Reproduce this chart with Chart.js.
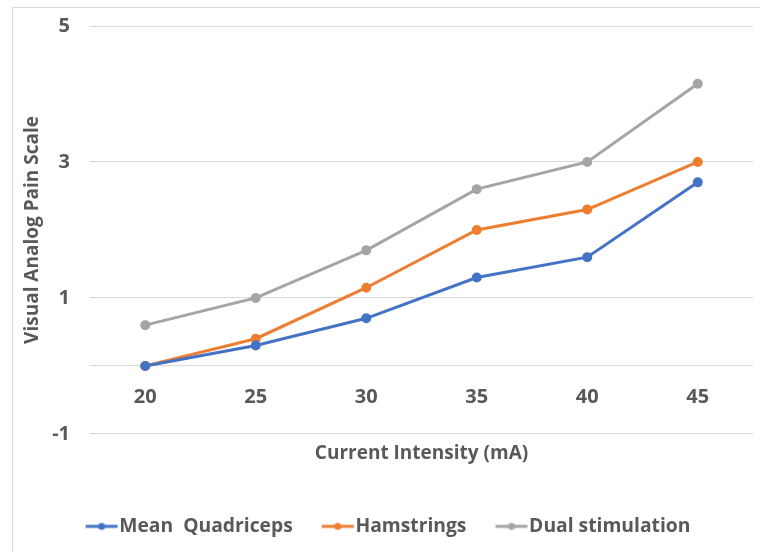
<!DOCTYPE html>
<html>
<head>
<meta charset="utf-8">
<script src="https://cdn.jsdelivr.net/npm/chart.js@4/dist/chart.umd.min.js"></script>
<style>
  html, body { margin: 0; background: #fff; }
  #wrap { width: 760px; height: 552px; }
</style>
</head>
<body>
<div id="wrap"><canvas id="pain"></canvas></div>
<script>
const intensities = ['20', '25', '30', '35', '40', '45'];
const quadriceps = [0, 0.3, 0.7, 1.3, 1.6, 2.7];
const hamstrings = [0, 0.4, 1.15, 2.0, 2.3, 3.0];
const dual = [0.6, 1.0, 1.7, 2.6, 3.0, 4.15];
const yTicks = [-1, 0, 1, 3, 5];

const TEXT = '#595959';
const GRID = '#d9d9d9';
const FONT = "'Open Sans', sans-serif";
const colors = ['#4472c4', '#ed7d31', '#a5a5a5'];

// little line-with-marker swatch used as the legend symbol
function swatch(color) {
  const c = document.createElement('canvas');
  c.width = 40;
  c.height = 10;
  const ctx = c.getContext('2d');
  ctx.strokeStyle = color;
  ctx.lineWidth = 3;
  ctx.beginPath();
  ctx.moveTo(4, 5);
  ctx.lineTo(36, 5);
  ctx.stroke();
  ctx.fillStyle = color;
  ctx.beginPath();
  ctx.arc(20, 5, 3.5, 0, Math.PI * 2);
  ctx.fill();
  return c;
}
const swatches = colors.map(swatch);

// thin sheet border along the top and left edge
const sheetFrame = {
  id: 'sheetFrame',
  beforeDraw(chart) {
    const { ctx } = chart;
    ctx.save();
    ctx.strokeStyle = GRID;
    ctx.lineWidth = 1;
    ctx.beginPath();
    ctx.moveTo(12.5, chart.height);
    ctx.lineTo(12.5, 7.5);
    ctx.lineTo(chart.width, 7.5);
    ctx.stroke();
    ctx.restore();
  },
};

const series = (label, data, color) => ({
  label,
  data,
  borderColor: color,
  backgroundColor: color,
  borderWidth: 3,
  pointRadius: 3.5,
  pointHoverRadius: 4,
  tension: 0,
});

const boldFont = (size) => ({ family: FONT, size, weight: 'bold' });

new Chart(document.getElementById('pain'), {
  type: 'line',
  data: {
    labels: intensities,
    datasets: [
      series('Mean  Quadriceps', quadriceps, colors[0]),
      series('Hamstrings', hamstrings, colors[1]),
      series('Dual stimulation', dual, colors[2]),
    ],
  },
  options: {
    responsive: true,
    maintainAspectRatio: false,
    animation: false,
    layout: { padding: { left: 24, right: 0, top: 26, bottom: 6 } },
    scales: {
      // category labels sit on the zero line
      x: {
        position: { y: 0 },
        offset: true,
        grid: { display: false, drawTicks: false },
        border: { display: false },
        ticks: { color: TEXT, font: boldFont(20), padding: 19 },
        afterFit(scale) {
          scale.paddingLeft = 0;
          scale.paddingRight = 0;
        },
      },
      // bottom axis only carries the title
      xTitle: {
        type: 'category',
        position: 'bottom',
        grid: { display: false, drawTicks: false },
        border: { display: false },
        ticks: { display: false },
        title: {
          display: true,
          text: 'Current Intensity (mA)',
          color: TEXT,
          font: boldFont(19),
          padding: { top: 8, bottom: 15 },
        },
      },
      y: {
        min: -1,
        max: 5,
        afterBuildTicks(scale) { scale.ticks = yTicks.map((v) => ({ value: v })); },
        grid: { color: GRID, drawTicks: false },
        border: { display: false },
        ticks: {
          color: TEXT,
          font: boldFont(20),
          padding: 20,
          callback: (v) => (v === 0 ? '' : v),
        },
        title: {
          display: true,
          text: 'Visual Analog Pain Scale',
          color: TEXT,
          font: boldFont(19),
          padding: { top: -3, bottom: 0 },
        },
        afterFit(scale) {
          scale.width = 66;
          scale.paddingTop = 10;
          scale.paddingBottom = 0;
        },
      },
    },
    plugins: {
      legend: {
        position: 'bottom',
        labels: {
          usePointStyle: true,
          pointStyleWidth: 16,
          padding: 37,
          color: TEXT,
          font: boldFont(19.3),
          generateLabels(chart) {
            return Chart.defaults.plugins.legend.labels.generateLabels(chart)
              .map((item, i) => ({ ...item, pointStyle: swatches[i] }));
          },
        },
      },
      tooltip: { enabled: false },
    },
  },
  plugins: [sheetFrame],
});
</script>
</body>
</html>
